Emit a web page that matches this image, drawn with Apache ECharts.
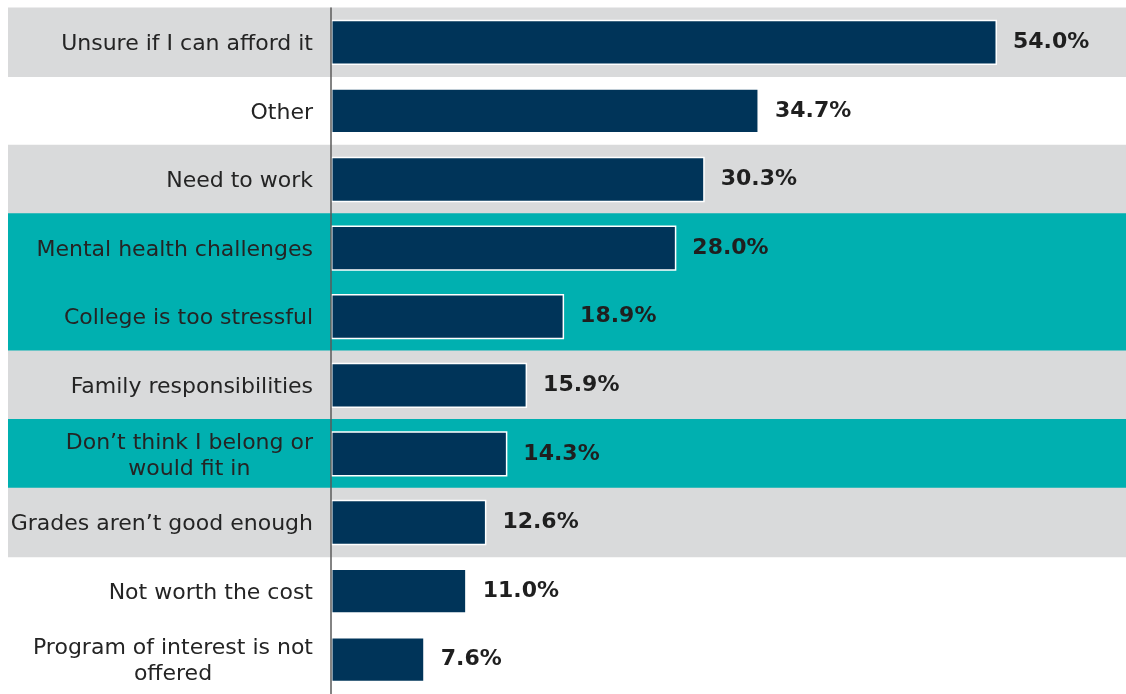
<!DOCTYPE html>
<html>
<head>
<meta charset="utf-8">
<title>Reasons for not enrolling</title>
<script src="https://cdn.jsdelivr.net/npm/echarts@6/dist/echarts.min.js"></script>
<style>
  html, body { margin: 0; padding: 0; background: #ffffff; }
  #chart { width: 1126px; height: 694px; }
</style>
</head>
<body>
<div id="chart"></div>
<script>
// Reasons, top to bottom
const categories = [
  'Unsure if I can afford it',
  'Other',
  'Need to work',
  'Mental health challenges',
  'College is too stressful',
  'Family responsibilities',
  'Don’t think I belong or\nwould fit in',
  'Grades aren’t good enough',
  'Not worth the cost',
  'Program of interest is not\noffered'
];

// Share of respondents (%)
const shares = [54.0, 34.7, 30.3, 28.0, 18.9, 15.9, 14.3, 12.6, 11.0, 7.6];

// Row highlight group for each reason
const rowGroups = ['gray', 'none', 'gray', 'teal', 'teal', 'gray', 'teal', 'gray', 'none', 'none'];

const bandPalette = { gray: '#d9dadb', teal: '#00b0b0', none: 'rgba(0,0,0,0)' };
const FONT = '"DejaVu Sans", Verdana, sans-serif';

const chart = echarts.init(document.getElementById('chart'), null, { renderer: 'canvas' });

// Full-width row bands; each band overlaps its neighbour slightly so
// adjacent bands of the same colour read as one block without a seam.
function renderRowBand(params, api) {
  const cs = params.coordSys;
  const center = api.coord([0, api.value(1)]);
  const band = api.size([0, 1])[1];
  return {
    type: 'rect',
    shape: { x: cs.x, y: center[1] - band / 2 - 0.5, width: cs.width, height: band + 1 },
    style: api.style()
  };
}

chart.setOption({
  animation: false,
  backgroundColor: '#ffffff',
  grid: [
    { left: 331, right: 55, top: 8, bottom: 0, containLabel: false },
    { left: 8, right: 0, top: 8, bottom: 0, containLabel: false }
  ],
  xAxis: [
    { gridIndex: 0, type: 'value', min: 0, max: 60, show: false },
    { gridIndex: 1, type: 'value', min: 0, max: 1, show: false }
  ],
  yAxis: [
    {
      gridIndex: 0,
      type: 'category',
      data: categories,
      inverse: true,
      z: 4,
      axisLine: { show: true, lineStyle: { color: '#5a5a5a', width: 1.5 } },
      axisTick: { show: false },
      splitLine: { show: false },
      axisLabel: {
        margin: 18,
        padding: [4, 0, 0, 0],
        formatter: function (v) {
          return v.split('\n').map(function (l) { return '{c|' + l + '}'; }).join('\n');
        },
        rich: {
          c: {
            align: 'center',
            fontFamily: FONT,
            fontSize: 22,
            lineHeight: 26,
            color: '#242424'
          }
        }
      }
    },
    {
      gridIndex: 1,
      type: 'category',
      data: categories,
      inverse: true,
      show: false
    }
  ],
  series: [
    {
      name: 'rows',
      type: 'custom',
      xAxisIndex: 1,
      yAxisIndex: 1,
      silent: true,
      z: 1,
      renderItem: renderRowBand,
      encode: { x: 0, y: 1 },
      data: rowGroups.map(function (g, i) {
        return { value: [0, i], itemStyle: { color: bandPalette[g] } };
      })
    },
    {
      name: 'Share',
      type: 'bar',
      xAxisIndex: 0,
      yAxisIndex: 0,
      z: 2,
      barWidth: '66%',
      data: shares,
      itemStyle: { color: '#003459', borderColor: '#ffffff', borderWidth: 1.5 },
      label: {
        show: true,
        position: 'right',
        distance: 16,
        fontFamily: FONT,
        fontSize: 22,
        fontWeight: 'bold',
        color: '#1f1f1f',
        formatter: function (p) { return p.value.toFixed(1) + '%'; }
      }
    }
  ]
});
</script>
</body>
</html>
